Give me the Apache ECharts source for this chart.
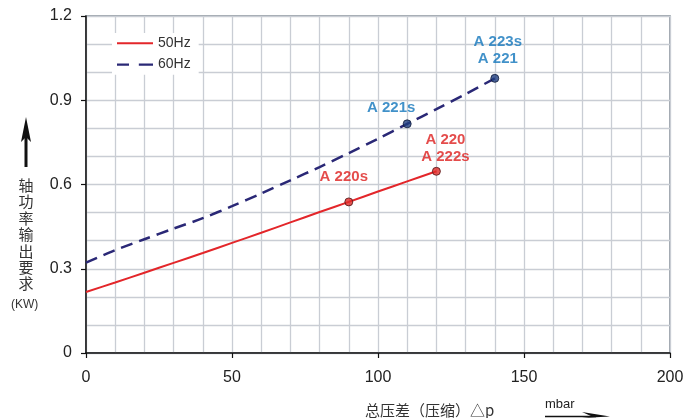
<!DOCTYPE html>
<html>
<head>
<meta charset="utf-8">
<script src="https://cdn.jsdelivr.net/npm/echarts@6/dist/echarts.min.js"></script>
<style>
html,body{margin:0;padding:0;background:#fff;}
#c{width:687px;height:418px;}
</style>
</head>
<body>
<div id="c"></div>
<script>
// ---- data ----
const xValues50 = [0,10,20,30,40,50,60,70,80,90,100,110,120];
const power50 = [0.217,0.251,0.286,0.321,0.356,0.392,0.428,0.465,0.502,0.538,0.575,0.611,0.647];
const xValues60 = [0,10,20,30,40,50,60,70,80,90,100,110,120,130,140];
const power60 = [0.322,0.366,0.405,0.443,0.480,0.523,0.568,0.615,0.662,0.712,0.763,0.816,0.868,0.922,0.978];
const models50X = [90,120];
const models50Y = [0.538,0.647];
const models50Labels = ['A 220s','A 220\nA 222s'];
const models60X = [110,140];
const models60Y = [0.816,0.978];
const models60Labels = ['A 221s','A 223s\nA 221'];
const seriesNames = ['50Hz','60Hz'];
const yTitle = '轴功率输出要求';
const yUnit = '(KW)';
const xTitle = '总压差（压缩）△p';
const xUnit = 'mbar';

const FONT = '"Liberation Sans", Arial, sans-serif';
const CJK = '"Noto Sans CJK SC", "Liberation Sans", sans-serif';
const RED = '#e3262a';
const NAVY = '#2a2876';
const RED_LABEL = '#dd1f1e';
const BLUE_LABEL = '#1276bb';
const GRID = '#c9cdd4';

const pair = (xs, ys) => xs.map((x, i) => [x, ys[i]]);

const labelOpts50 = [
  {position:'top', distance:12, offset:[-5,0]},
  {position:'top', distance:1, offset:[9,0]}
];
const labelOpts60 = [
  {position:'top', distance:3, offset:[-16,0]},
  {position:'top', distance:6, offset:[3,0]}
];

function pointData(xs, ys, labels, opts) {
  return xs.map((x, i) => ({
    value: [x, ys[i]],
    label: Object.assign({formatter: labels[i]}, opts[i])
  }));
}

const chart = echarts.init(document.getElementById('c'), null, {renderer:'canvas'});
chart.setOption({
  animation: false,
  backgroundColor: '#fff',
  grid: {left:86, right:17, top:16, bottom:65, show:true, borderColor:'#7d8892', borderWidth:1.5, backgroundColor:'transparent'},
  legend: {
    data: [
      {name: seriesNames[0], icon: 'path://M0,0h36v2h-36z', itemStyle:{color: RED}},
      {name: seriesNames[1], icon: 'path://M0,0h11v2h-11z M20,0h13v2h-13z', itemStyle:{color: NAVY}}
    ],
    orient: 'vertical',
    left: 112, top: 33,
    itemWidth: 36, itemHeight: 2.4, itemGap: 7,
    padding: [3,8,3,5],
    backgroundColor: '#fff',
    textStyle: {fontFamily: FONT, fontSize: 14, color: '#333', lineHeight: 14.4}
  },
  xAxis: {
    type: 'value', min: 0, max: 200, interval: 50,
    axisLine: {show:true, onZero:false, lineStyle:{color:'#111', width:1.5}},
    axisTick: {show:true, length:5, lineStyle:{color:'#111', width:1.2}},
    minorTick: {show:false, splitNumber:5},
    splitLine: {show:true, lineStyle:{color:GRID, width:1.3}},
    minorSplitLine: {show:true, lineStyle:{color:GRID, width:1.3}},
    axisLabel: {fontFamily: FONT, fontSize: 16, color:'#222', margin: 17}
  },
  yAxis: {
    type: 'value', min: 0, max: 1.2, interval: 0.3,
    axisLine: {show:true, onZero:false, lineStyle:{color:'#111', width:1.5}},
    axisTick: {show:true, length:5, lineStyle:{color:'#111', width:1.2}},
    minorTick: {show:false, splitNumber:3},
    splitLine: {show:true, lineStyle:{color:GRID, width:1.3}},
    minorSplitLine: {show:true, lineStyle:{color:GRID, width:1.3}},
    axisLabel: {fontFamily: FONT, fontSize: 16, color:'#222', margin: 14,
      formatter: v => (v === 0 ? '0' : v.toFixed(1))}
  },
  series: [
    {
      name: seriesNames[0], type: 'line', data: pair(xValues50, power50),
      symbol: 'none', smooth: 0.3,
      lineStyle: {color: RED, width: 2}, itemStyle: {color: RED},
      z: 3
    },
    {
      name: seriesNames[1], type: 'line', data: pair(xValues60, power60),
      symbol: 'none', smooth: 0.3,
      lineStyle: {color: NAVY, width: 2.5, type: [12,7]}, itemStyle: {color: NAVY},
      z: 3
    },
    {
      type: 'scatter', data: pointData(models50X, models50Y, models50Labels, labelOpts50),
      symbol: 'circle', symbolSize: 8,
      itemStyle: {color: '#e12a28', borderColor: '#4a1414', borderWidth: 1},
      label: {show: true, color: RED_LABEL, fontFamily: FONT, fontWeight: 'bold', fontSize: 15, lineHeight: 17, align:'center'},
      z: 5
    },
    {
      type: 'scatter', data: pointData(models60X, models60Y, models60Labels, labelOpts60),
      symbol: 'circle', symbolSize: 8,
      itemStyle: {color: '#1f3d80', borderColor: '#0f1a38', borderWidth: 1},
      label: {show: true, color: BLUE_LABEL, fontFamily: FONT, fontWeight: 'bold', fontSize: 15, lineHeight: 17, align:'center'},
      z: 5
    }
  ],
  graphic: [
    // y-axis title arrow
    {type:'line', shape:{x1:26, y1:167, x2:26, y2:136}, style:{stroke:'#111', lineWidth:3}},
    {type:'polygon', shape:{points:[[26,117],[21,142],[26,137],[31,142]]}, style:{fill:'#111'}},
    {type:'text', left: 18.5, top: 177,
      style:{text: yTitle.split('').join('\n'), font: '15px ' + CJK, lineHeight: 16.4, fill:'#333', align:'left'}},
    {type:'text', left: 11, top: 299,
      style:{text: yUnit, font: '12px ' + FONT, fill:'#333'}},
    // x-axis title
    {type:'text', left: 365, top: 403,
      style:{text: xTitle, font: '15px ' + CJK, fill:'#333'}},
    {type:'text', left: 545, top: 398,
      style:{text: xUnit, font: '13px ' + FONT, fill:'#222'}},
    {type:'line', shape:{x1:545, y1:416.5, x2:596, y2:416.5}, style:{stroke:'#111', lineWidth:1.3}},
    {type:'polygon', shape:{points:[[582,412],[610,416.5],[582,418],[592,416.5]]}, style:{fill:'#111'}}
  ]
});
</script>
</body>
</html>
